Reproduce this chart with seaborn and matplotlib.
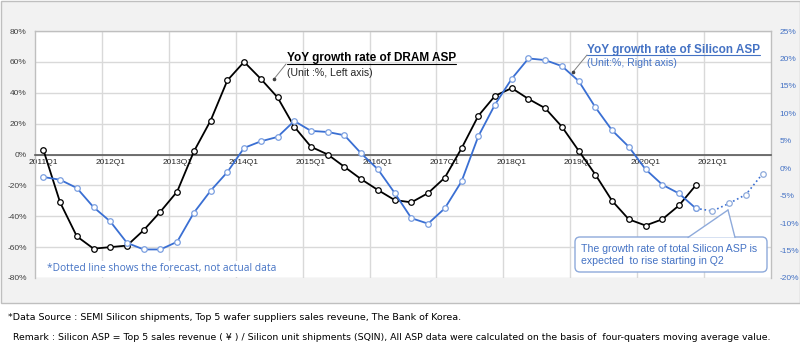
import numpy as np
import pandas as pd
import seaborn as sns
import matplotlib.pyplot as plt
from matplotlib.lines import Line2D
from matplotlib.patches import Rectangle, FancyBboxPatch, Polygon
from matplotlib.transforms import IdentityTransform

# DATA
quarters = [f"{y}Q{q}" for y in range(2011, 2022) for q in range(1, 5)]

dram_asp = [3, -31, -53, -61, -60, -59, -49, -37, -24, 2,
            22, 48, 60, 49, 37, 18, 5, 0, -8, -16,
            -23, -29.5, -31, -25, -15, 4, 25, 38, 43, 36,
            30, 18, 2.5, -13, -30, -42, -46, -42, -33, -20]

silicon_asp = [-1.6, -2.1, -3.6, -7.1, -9.7, -13.6, -14.8, -14.8, -13.4, -8.1,
               -4.1, -0.7, 3.7, 4.9, 5.7, 8.6, 6.8, 6.6, 6.0, 2.7,
               -0.2, -4.5, -9.1, -10.1, -7.3, -2.4, 5.8, 11.6, 16.3, 20.0,
               19.7, 18.6, 15.9, 11.1, 6.9, 3.9, -0.2, -3.0, -4.6, -7.3]

silicon_forecast = [-7.3, -7.8, -6.4, -4.8, -1.0]

left_ticks = list(range(-80, 81, 20))
right_ticks = list(range(-20, 26, 5))

# COLORS
BLUE = "#3a6fd3"
LIGHT_BLUE = "#8eaadb"
TXT_BLUE = "#4472c4"
W, H = 800, 354


def px(x, y):
    # image pixel (top-left origin) -> display coords
    return x, H - y


sns.set_style("white")
plt.rcParams['font.family'] = ['Liberation Sans', 'DejaVu Sans']

fig = plt.figure(figsize=(8, 3.54), dpi=100, facecolor="white")
fig.add_artist(Rectangle((0.5, H - 303), 799, 302.5, transform=IdentityTransform(),
                         facecolor="#f2f2f2", edgecolor="#bfbfbf", lw=1, zorder=-5))

ax = fig.add_axes([35 / W, 1 - 278 / H, 736 / W, 247 / H])
ax.set_facecolor("white")
ax2 = ax.twinx()

# LINES
dram_df = pd.DataFrame({"pos": range(len(dram_asp)), "yoy": dram_asp})
si_df = pd.DataFrame({"pos": range(len(silicon_asp)), "yoy": silicon_asp})
fc_start = len(silicon_asp) - 1
fc_df = pd.DataFrame({"pos": range(fc_start, fc_start + len(silicon_forecast)), "yoy": silicon_forecast})

sns.lineplot(data=dram_df, x="pos", y="yoy", ax=ax, color="black", lw=1.3,
             marker="o", ms=4, mfc="white", mec="black", mew=0.9, zorder=3)
sns.lineplot(data=fc_df, x="pos", y="yoy", ax=ax2, color=BLUE, lw=1.2, linestyle=":",
             marker="o", ms=4, mfc="white", mec=LIGHT_BLUE, mew=0.9, zorder=2)
sns.lineplot(data=si_df, x="pos", y="yoy", ax=ax2, color=BLUE, lw=1.3,
             marker="o", ms=4, mfc="white", mec="#7b9fe0", mew=0.9, zorder=3)

ax.set_xlim(-0.5, len(quarters) - 0.5)
ax.set_ylim(-80, 80)
ax2.set_ylim(-20, 25)
ax.set_xlabel("")
ax.set_ylabel("")
ax2.set_xlabel("")
ax2.set_ylabel("")

# GRID
ax.set_axisbelow(True)
ax.set_yticks(left_ticks)
ax.set_yticklabels([f"{v}%" for v in left_ticks])
ax.yaxis.grid(True, color="#d9d9d9", lw=1)
for b in np.arange(3.5, len(quarters) - 1, 4):
    ax.axvline(b, color="#d9d9d9", lw=1, zorder=0)

ax.set_xticks(range(0, len(quarters), 4))
ax.set_xticklabels(quarters[::4])
ax.set_xticks(np.arange(-0.5, len(quarters), 2), minor=True)
ax.tick_params(axis="x", which="major", length=0, pad=3, labelsize=6, labelcolor="#262626")
ax.tick_params(axis="x", which="minor", length=3, direction="in", color="#595959", width=1)
ax.tick_params(axis="y", length=0, pad=6, labelsize=6, labelcolor="#404040")

ax.spines["bottom"].set_position(("data", 0))
ax.spines["bottom"].set_color("#595959")
ax.spines["bottom"].set_linewidth(1.2)
for s in ["left", "top", "right"]:
    ax.spines[s].set_color("#bfbfbf")
    ax.spines[s].set_linewidth(1)

ax2.set_yticks(right_ticks)
ax2.set_yticklabels([f"{v}%" for v in right_ticks])
ax2.tick_params(axis="y", length=0, pad=6, labelsize=6, labelcolor=TXT_BLUE)
for s in ax2.spines.values():
    s.set_visible(False)

# ANNOTATIONS
t1 = fig.text(287 / W, 1 - 61.5 / H, "YoY growth rate of DRAM ASP", fontsize=8.5,
              fontweight="bold", color="black", va="baseline")
fig.text(287 / W, 1 - 75.5 / H, "(Unit :%, Left axis)", fontsize=7.6, color="#262626", va="baseline")
t2 = fig.text(587 / W, 1 - 52.5 / H, "YoY growth rate of Silicon ASP", fontsize=8.5,
              fontweight="bold", color=TXT_BLUE, va="baseline")
fig.text(587 / W, 1 - 65.5 / H, "(Unit:%, Right axis)", fontsize=7.6, color=TXT_BLUE, va="baseline")

fig.canvas.draw()
for t, py, c in [(t1, 63.5, "black"), (t2, 55, TXT_BLUE)]:
    bb = t.get_window_extent()
    fig.add_artist(Line2D([bb.x0, bb.x1], [H - py, H - py], transform=IdentityTransform(), color=c, lw=0.8))

for (x0, y0), (x1, y1) in [((286, 64), (274, 79)), ((587, 55), (573, 72))]:
    fig.add_artist(Line2D([x0, x1], [H - y0, H - y1], transform=IdentityTransform(),
                          color="#808080", lw=0.7, marker="o", ms=1.6, markevery=[1],
                          mfc="#404040", mec="#404040"))

fig.text(47 / W, 1 - 269 / H, "*Dotted line shows the forecast, not actual data", fontsize=7.4,
         family=["Open Sans", "DejaVu Sans"], color=TXT_BLUE, va="center",
         bbox=dict(fc="white", ec="none", pad=1.5))

# callout box
fig.add_artist(FancyBboxPatch(px(575, 272), 192, 35, boxstyle="round,pad=0,rounding_size=5",
                              transform=IdentityTransform(), fc="white", ec=LIGHT_BLUE, lw=1, zorder=4))
fig.add_artist(Polygon([px(688, 237.5), px(728, 210), px(735, 237.5)], closed=True,
                       transform=IdentityTransform(), fc="white", ec="none", zorder=5))
for a, b in [((688, 237.5), (728, 210)), ((728, 210), (735, 237.5))]:
    fig.add_artist(Line2D([a[0], b[0]], [H - a[1], H - b[1]], transform=IdentityTransform(),
                          color=LIGHT_BLUE, lw=1, zorder=6))
fig.text(581 / W, 1 - 255 / H, "The growth rate of total Silicon ASP is\nexpected  to rise starting in Q2",
         fontsize=7.6, color=TXT_BLUE, va="center", linespacing=1.3, zorder=7)

# FOOTNOTES
notes = [
    ("*Data Source : SEMI Silicon shipments, Top 5 wafer suppliers sales reveune, The Bank of Korea.", 8, 461, 318),
    ("Remark : Silicon ASP = Top 5 sales revenue ( \u00a5 ) / Silicon unit shipments (SQIN), All ASP data were "
     "calculated on the basis of  four-quaters moving average value.", 13, 773, 337),
]
for txt, x0, x1, yc in notes:
    t = fig.text(x0 / W, 1 - yc / H, txt, fontsize=8, color="black", va="center",
                 family=["Liberation Sans Narrow", "DejaVu Sans"])
    fig.canvas.draw()
    w = t.get_window_extent().width
    t.set_fontsize(8 * (x1 - x0) / w)

fig.savefig("out.png", dpi=100)
